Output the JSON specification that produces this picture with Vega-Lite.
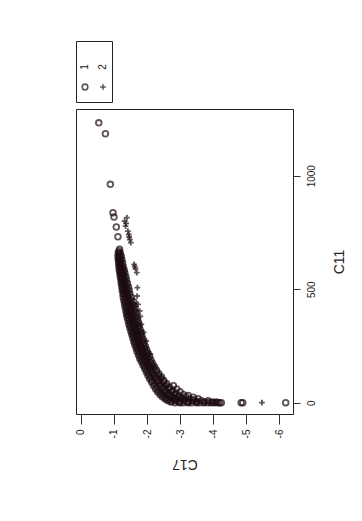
{
  "$schema": "https://vega.github.io/schema/vega-lite/v6.json",
  "autosize": {"type": "pad"},
  "padding": {"left": 75, "top": 40, "right": 5, "bottom": 5},
  "background": "white",
  "spacing": 5,
  "config": {
    "font": "Liberation Sans",
    "view": {"stroke": "#222", "strokeWidth": 1},
    "axis": {"labelFont": "Liberation Sans", "titleFont": "Liberation Sans"},
    "text": {"font": "Liberation Sans"}
  },
  "resolve": {"scale": {"x": "independent", "y": "independent", "shape": "independent"}},
  "datasets": {
    "groups": [{"g": "1"}, {"g": "2"}],
    "pts": [
      {"C17": -0.54, "C11": 1233, "g": "1"}, {"C17": -0.74, "C11": 1185, "g": "1"}, {"C17": -0.89, "C11": 962, "g": "1"},
      {"C17": -0.97, "C11": 837, "g": "1"}, {"C17": -1.0, "C11": 818, "g": "1"}, {"C17": -1.07, "C11": 774, "g": "1"},
      {"C17": -1.12, "C11": 731, "g": "1"}, {"C17": -1.15, "C11": 668, "g": "1"}, {"C17": -1.17, "C11": 676, "g": "1"},
      {"C17": -1.13, "C11": 660, "g": "1"}, {"C17": -1.16, "C11": 655, "g": "1"}, {"C17": -1.19, "C11": 660, "g": "1"},
      {"C17": -1.12, "C11": 645, "g": "1"}, {"C17": -1.15, "C11": 640, "g": "1"}, {"C17": -1.18, "C11": 645, "g": "1"}, {"C17": -1.22, "C11": 645, "g": "1"},
      {"C17": -1.13, "C11": 630, "g": "1"}, {"C17": -1.16, "C11": 625, "g": "1"}, {"C17": -1.19, "C11": 630, "g": "1"}, {"C17": -1.24, "C11": 630, "g": "1"},
      {"C17": -1.14, "C11": 615, "g": "1"}, {"C17": -1.17, "C11": 610, "g": "1"}, {"C17": -1.20, "C11": 615, "g": "1"}, {"C17": -1.26, "C11": 615, "g": "1"},
      {"C17": -1.15, "C11": 600, "g": "1"}, {"C17": -1.18, "C11": 595, "g": "1"}, {"C17": -1.21, "C11": 600, "g": "1"}, {"C17": -1.25, "C11": 592, "g": "1"}, {"C17": -1.28, "C11": 600, "g": "1"},
      {"C17": -1.16, "C11": 585, "g": "1"}, {"C17": -1.19, "C11": 578, "g": "1"}, {"C17": -1.23, "C11": 585, "g": "1"}, {"C17": -1.27, "C11": 578, "g": "1"}, {"C17": -1.31, "C11": 585, "g": "1"},
      {"C17": -1.18, "C11": 570, "g": "1"}, {"C17": -1.21, "C11": 563, "g": "1"}, {"C17": -1.25, "C11": 570, "g": "1"}, {"C17": -1.29, "C11": 563, "g": "1"}, {"C17": -1.33, "C11": 570, "g": "1"},
      {"C17": -1.19, "C11": 555, "g": "1"}, {"C17": -1.23, "C11": 548, "g": "1"}, {"C17": -1.27, "C11": 555, "g": "1"}, {"C17": -1.31, "C11": 548, "g": "1"}, {"C17": -1.36, "C11": 555, "g": "1"},
      {"C17": -1.21, "C11": 540, "g": "1"}, {"C17": -1.25, "C11": 533, "g": "1"}, {"C17": -1.29, "C11": 540, "g": "1"}, {"C17": -1.33, "C11": 533, "g": "1"}, {"C17": -1.38, "C11": 540, "g": "1"},
      {"C17": -1.22, "C11": 525, "g": "1"}, {"C17": -1.26, "C11": 518, "g": "1"}, {"C17": -1.31, "C11": 525, "g": "1"}, {"C17": -1.36, "C11": 518, "g": "1"}, {"C17": -1.41, "C11": 525, "g": "1"},
      {"C17": -1.24, "C11": 510, "g": "1"}, {"C17": -1.28, "C11": 503, "g": "1"}, {"C17": -1.33, "C11": 510, "g": "1"}, {"C17": -1.38, "C11": 503, "g": "1"}, {"C17": -1.44, "C11": 510, "g": "1"},
      {"C17": -1.25, "C11": 495, "g": "1"}, {"C17": -1.30, "C11": 488, "g": "1"}, {"C17": -1.35, "C11": 495, "g": "1"}, {"C17": -1.40, "C11": 488, "g": "1"}, {"C17": -1.46, "C11": 495, "g": "1"},
      {"C17": -1.27, "C11": 480, "g": "1"}, {"C17": -1.32, "C11": 473, "g": "1"}, {"C17": -1.37, "C11": 480, "g": "1"}, {"C17": -1.42, "C11": 473, "g": "1"}, {"C17": -1.48, "C11": 480, "g": "1"},
      {"C17": -1.28, "C11": 465, "g": "1"}, {"C17": -1.34, "C11": 458, "g": "1"}, {"C17": -1.39, "C11": 465, "g": "1"}, {"C17": -1.45, "C11": 458, "g": "1"}, {"C17": -1.52, "C11": 465, "g": "1"},
      {"C17": -1.30, "C11": 450, "g": "1"}, {"C17": -1.35, "C11": 443, "g": "1"}, {"C17": -1.41, "C11": 450, "g": "1"}, {"C17": -1.47, "C11": 443, "g": "1"}, {"C17": -1.53, "C11": 450, "g": "1"}, {"C17": -1.60, "C11": 445, "g": "1"},
      {"C17": -1.32, "C11": 435, "g": "1"}, {"C17": -1.37, "C11": 428, "g": "1"}, {"C17": -1.43, "C11": 435, "g": "1"}, {"C17": -1.49, "C11": 428, "g": "1"}, {"C17": -1.55, "C11": 435, "g": "1"}, {"C17": -1.61, "C11": 428, "g": "1"},
      {"C17": -1.34, "C11": 420, "g": "1"}, {"C17": -1.39, "C11": 413, "g": "1"}, {"C17": -1.45, "C11": 420, "g": "1"}, {"C17": -1.51, "C11": 413, "g": "1"}, {"C17": -1.57, "C11": 420, "g": "1"}, {"C17": -1.64, "C11": 413, "g": "1"},
      {"C17": -1.36, "C11": 405, "g": "1"}, {"C17": -1.41, "C11": 398, "g": "1"}, {"C17": -1.47, "C11": 405, "g": "1"}, {"C17": -1.53, "C11": 398, "g": "1"}, {"C17": -1.59, "C11": 405, "g": "1"}, {"C17": -1.66, "C11": 398, "g": "1"},
      {"C17": -1.38, "C11": 390, "g": "1"}, {"C17": -1.43, "C11": 383, "g": "1"}, {"C17": -1.49, "C11": 390, "g": "1"}, {"C17": -1.55, "C11": 383, "g": "1"}, {"C17": -1.61, "C11": 390, "g": "1"}, {"C17": -1.68, "C11": 383, "g": "1"},
      {"C17": -1.40, "C11": 375, "g": "1"}, {"C17": -1.46, "C11": 368, "g": "1"}, {"C17": -1.52, "C11": 375, "g": "1"}, {"C17": -1.58, "C11": 368, "g": "1"}, {"C17": -1.64, "C11": 375, "g": "1"}, {"C17": -1.71, "C11": 368, "g": "1"},
      {"C17": -1.43, "C11": 360, "g": "1"}, {"C17": -1.49, "C11": 353, "g": "1"}, {"C17": -1.55, "C11": 360, "g": "1"}, {"C17": -1.61, "C11": 353, "g": "1"}, {"C17": -1.67, "C11": 360, "g": "1"}, {"C17": -1.74, "C11": 353, "g": "1"},
      {"C17": -1.45, "C11": 345, "g": "1"}, {"C17": -1.51, "C11": 338, "g": "1"}, {"C17": -1.57, "C11": 345, "g": "1"}, {"C17": -1.63, "C11": 338, "g": "1"}, {"C17": -1.69, "C11": 345, "g": "1"}, {"C17": -1.76, "C11": 338, "g": "1"},
      {"C17": -1.48, "C11": 330, "g": "1"}, {"C17": -1.54, "C11": 323, "g": "1"}, {"C17": -1.60, "C11": 330, "g": "1"}, {"C17": -1.66, "C11": 323, "g": "1"}, {"C17": -1.72, "C11": 330, "g": "1"}, {"C17": -1.79, "C11": 323, "g": "1"},
      {"C17": -1.51, "C11": 315, "g": "1"}, {"C17": -1.57, "C11": 308, "g": "1"}, {"C17": -1.63, "C11": 315, "g": "1"}, {"C17": -1.69, "C11": 308, "g": "1"}, {"C17": -1.75, "C11": 315, "g": "1"}, {"C17": -1.82, "C11": 308, "g": "1"},
      {"C17": -1.54, "C11": 300, "g": "1"}, {"C17": -1.60, "C11": 293, "g": "1"}, {"C17": -1.66, "C11": 300, "g": "1"}, {"C17": -1.72, "C11": 293, "g": "1"}, {"C17": -1.78, "C11": 300, "g": "1"}, {"C17": -1.85, "C11": 293, "g": "1"},
      {"C17": -1.57, "C11": 285, "g": "1"}, {"C17": -1.63, "C11": 278, "g": "1"}, {"C17": -1.69, "C11": 285, "g": "1"}, {"C17": -1.75, "C11": 278, "g": "1"}, {"C17": -1.81, "C11": 285, "g": "1"}, {"C17": -1.88, "C11": 278, "g": "1"},
      {"C17": -1.60, "C11": 270, "g": "1"}, {"C17": -1.66, "C11": 263, "g": "1"}, {"C17": -1.72, "C11": 270, "g": "1"}, {"C17": -1.78, "C11": 263, "g": "1"}, {"C17": -1.84, "C11": 270, "g": "1"}, {"C17": -1.91, "C11": 263, "g": "1"},
      {"C17": -1.63, "C11": 255, "g": "1"}, {"C17": -1.69, "C11": 248, "g": "1"}, {"C17": -1.75, "C11": 255, "g": "1"}, {"C17": -1.82, "C11": 248, "g": "1"}, {"C17": -1.88, "C11": 255, "g": "1"}, {"C17": -1.95, "C11": 248, "g": "1"},
      {"C17": -1.67, "C11": 240, "g": "1"}, {"C17": -1.73, "C11": 233, "g": "1"}, {"C17": -1.79, "C11": 240, "g": "1"}, {"C17": -1.86, "C11": 233, "g": "1"}, {"C17": -1.92, "C11": 240, "g": "1"}, {"C17": -1.99, "C11": 233, "g": "1"},
      {"C17": -1.70, "C11": 225, "g": "1"}, {"C17": -1.77, "C11": 218, "g": "1"}, {"C17": -1.83, "C11": 225, "g": "1"}, {"C17": -1.90, "C11": 218, "g": "1"}, {"C17": -1.96, "C11": 225, "g": "1"}, {"C17": -2.03, "C11": 218, "g": "1"},
      {"C17": -1.74, "C11": 210, "g": "1"}, {"C17": -1.81, "C11": 203, "g": "1"}, {"C17": -1.87, "C11": 210, "g": "1"}, {"C17": -1.94, "C11": 203, "g": "1"}, {"C17": -2.00, "C11": 210, "g": "1"}, {"C17": -2.08, "C11": 203, "g": "1"},
      {"C17": -1.78, "C11": 195, "g": "1"}, {"C17": -1.85, "C11": 188, "g": "1"}, {"C17": -1.91, "C11": 195, "g": "1"}, {"C17": -1.98, "C11": 188, "g": "1"}, {"C17": -2.04, "C11": 195, "g": "1"}, {"C17": -2.12, "C11": 188, "g": "1"},
      {"C17": -1.83, "C11": 180, "g": "1"}, {"C17": -1.90, "C11": 173, "g": "1"}, {"C17": -1.96, "C11": 180, "g": "1"}, {"C17": -2.03, "C11": 173, "g": "1"}, {"C17": -2.09, "C11": 180, "g": "1"}, {"C17": -2.17, "C11": 173, "g": "1"},
      {"C17": -1.88, "C11": 165, "g": "1"}, {"C17": -1.95, "C11": 158, "g": "1"}, {"C17": -2.01, "C11": 165, "g": "1"}, {"C17": -2.08, "C11": 158, "g": "1"}, {"C17": -2.15, "C11": 165, "g": "1"}, {"C17": -2.23, "C11": 158, "g": "1"},
      {"C17": -1.93, "C11": 150, "g": "1"}, {"C17": -2.00, "C11": 143, "g": "1"}, {"C17": -2.07, "C11": 150, "g": "1"}, {"C17": -2.14, "C11": 143, "g": "1"}, {"C17": -2.21, "C11": 150, "g": "1"}, {"C17": -2.29, "C11": 143, "g": "1"},
      {"C17": -1.98, "C11": 135, "g": "1"}, {"C17": -2.05, "C11": 128, "g": "1"}, {"C17": -2.13, "C11": 135, "g": "1"}, {"C17": -2.20, "C11": 128, "g": "1"}, {"C17": -2.28, "C11": 135, "g": "1"}, {"C17": -2.36, "C11": 128, "g": "1"},
      {"C17": -2.03, "C11": 120, "g": "1"}, {"C17": -2.11, "C11": 113, "g": "1"}, {"C17": -2.19, "C11": 120, "g": "1"}, {"C17": -2.27, "C11": 113, "g": "1"}, {"C17": -2.35, "C11": 120, "g": "1"}, {"C17": -2.44, "C11": 113, "g": "1"},
      {"C17": -2.08, "C11": 105, "g": "1"}, {"C17": -2.16, "C11": 98, "g": "1"}, {"C17": -2.25, "C11": 105, "g": "1"}, {"C17": -2.33, "C11": 98, "g": "1"}, {"C17": -2.42, "C11": 105, "g": "1"}, {"C17": -2.51, "C11": 98, "g": "1"},
      {"C17": -2.14, "C11": 90, "g": "1"}, {"C17": -2.23, "C11": 83, "g": "1"}, {"C17": -2.32, "C11": 90, "g": "1"}, {"C17": -2.41, "C11": 83, "g": "1"}, {"C17": -2.50, "C11": 90, "g": "1"}, {"C17": -2.60, "C11": 83, "g": "1"},
      {"C17": -2.20, "C11": 75, "g": "1"}, {"C17": -2.29, "C11": 68, "g": "1"}, {"C17": -2.39, "C11": 75, "g": "1"}, {"C17": -2.48, "C11": 68, "g": "1"}, {"C17": -2.58, "C11": 75, "g": "1"}, {"C17": -2.69, "C11": 68, "g": "1"}, {"C17": -2.80, "C11": 75, "g": "1"},
      {"C17": -2.26, "C11": 60, "g": "1"}, {"C17": -2.36, "C11": 54, "g": "1"}, {"C17": -2.46, "C11": 60, "g": "1"}, {"C17": -2.56, "C11": 54, "g": "1"}, {"C17": -2.67, "C11": 60, "g": "1"}, {"C17": -2.78, "C11": 54, "g": "1"}, {"C17": -2.90, "C11": 60, "g": "1"},
      {"C17": -2.32, "C11": 48, "g": "1"}, {"C17": -2.43, "C11": 42, "g": "1"}, {"C17": -2.53, "C11": 48, "g": "1"}, {"C17": -2.64, "C11": 42, "g": "1"}, {"C17": -2.75, "C11": 48, "g": "1"}, {"C17": -2.87, "C11": 42, "g": "1"}, {"C17": -3.00, "C11": 48, "g": "1"},
      {"C17": -2.39, "C11": 36, "g": "1"}, {"C17": -2.50, "C11": 31, "g": "1"}, {"C17": -2.61, "C11": 36, "g": "1"}, {"C17": -2.72, "C11": 31, "g": "1"}, {"C17": -2.84, "C11": 36, "g": "1"}, {"C17": -2.97, "C11": 31, "g": "1"}, {"C17": -3.10, "C11": 36, "g": "1"}, {"C17": -3.25, "C11": 32, "g": "1"},
      {"C17": -2.46, "C11": 26, "g": "1"}, {"C17": -2.58, "C11": 21, "g": "1"}, {"C17": -2.69, "C11": 26, "g": "1"}, {"C17": -2.81, "C11": 21, "g": "1"}, {"C17": -2.93, "C11": 26, "g": "1"}, {"C17": -3.06, "C11": 21, "g": "1"}, {"C17": -3.18, "C11": 26, "g": "1"}, {"C17": -3.40, "C11": 24, "g": "1"},
      {"C17": -2.54, "C11": 17, "g": "1"}, {"C17": -2.66, "C11": 13, "g": "1"}, {"C17": -2.78, "C11": 17, "g": "1"}, {"C17": -2.90, "C11": 13, "g": "1"}, {"C17": -3.02, "C11": 17, "g": "1"}, {"C17": -3.15, "C11": 13, "g": "1"}, {"C17": -3.28, "C11": 17, "g": "1"}, {"C17": -3.42, "C11": 13, "g": "1"}, {"C17": -3.55, "C11": 17, "g": "1"},
      {"C17": -2.62, "C11": 9, "g": "1"}, {"C17": -2.74, "C11": 6, "g": "1"}, {"C17": -2.86, "C11": 9, "g": "1"}, {"C17": -2.99, "C11": 6, "g": "1"}, {"C17": -3.12, "C11": 9, "g": "1"}, {"C17": -3.25, "C11": 6, "g": "1"}, {"C17": -3.38, "C11": 9, "g": "1"}, {"C17": -3.51, "C11": 6, "g": "1"}, {"C17": -3.65, "C11": 9, "g": "1"}, {"C17": -3.85, "C11": 8, "g": "1"},
      {"C17": -2.72, "C11": 3, "g": "1"}, {"C17": -2.96, "C11": 3, "g": "1"}, {"C17": -3.22, "C11": 3, "g": "1"}, {"C17": -3.48, "C11": 3, "g": "1"}, {"C17": -3.74, "C11": 3, "g": "1"}, {"C17": -3.98, "C11": 3, "g": "1"}, {"C17": -4.1, "C11": 3, "g": "1"},
      {"C17": -2.85, "C11": 0, "g": "1"}, {"C17": -3.0, "C11": 0, "g": "1"}, {"C17": -3.1, "C11": 0, "g": "1"}, {"C17": -3.25, "C11": 0, "g": "1"}, {"C17": -3.35, "C11": 0, "g": "1"}, {"C17": -3.5, "C11": 0, "g": "1"}, {"C17": -3.6, "C11": 0, "g": "1"}, {"C17": -3.72, "C11": 0, "g": "1"}, {"C17": -3.85, "C11": 0, "g": "1"},
      {"C17": -3.95, "C11": 0, "g": "1"}, {"C17": -4.05, "C11": 0, "g": "1"}, {"C17": -4.15, "C11": 0, "g": "1"}, {"C17": -4.2, "C11": 0, "g": "1"}, {"C17": -4.25, "C11": 0, "g": "1"}, {"C17": -4.85, "C11": 0, "g": "1"}, {"C17": -4.9, "C11": 0, "g": "1"}, {"C17": -6.2, "C11": 0, "g": "1"},
      {"C17": -1.32, "C11": 800, "g": "2"}, {"C17": -1.39, "C11": 815, "g": "2"}, {"C17": -1.35, "C11": 778, "g": "2"}, {"C17": -1.37, "C11": 790, "g": "2"},
      {"C17": -1.42, "C11": 756, "g": "2"}, {"C17": -1.45, "C11": 741, "g": "2"}, {"C17": -1.48, "C11": 719, "g": "2"}, {"C17": -1.46, "C11": 730, "g": "2"},
      {"C17": -1.51, "C11": 705, "g": "2"}, {"C17": -1.61, "C11": 609, "g": "2"}, {"C17": -1.63, "C11": 600, "g": "2"}, {"C17": -1.65, "C11": 590, "g": "2"},
      {"C17": -1.69, "C11": 573, "g": "2"}, {"C17": -1.71, "C11": 507, "g": "2"}, {"C17": -1.73, "C11": 433, "g": "2"}, {"C17": -1.70, "C11": 470, "g": "2"},
      {"C17": -1.78, "C11": 404, "g": "2"}, {"C17": -1.80, "C11": 380, "g": "2"}, {"C17": -1.83, "C11": 345, "g": "2"}, {"C17": -1.90, "C11": 310, "g": "2"}, {"C17": -1.98, "C11": 272, "g": "2"},
      {"C17": -2.1, "C11": 215, "g": "2"}, {"C17": -2.2, "C11": 160, "g": "2"}, {"C17": -2.4, "C11": 110, "g": "2"}, {"C17": -2.6, "C11": 70, "g": "2"},
      {"C17": -3.75, "C11": 0, "g": "2"}, {"C17": -3.9, "C11": 0, "g": "2"}, {"C17": -4.05, "C11": 0, "g": "2"}, {"C17": -5.48, "C11": 0, "g": "2"}
    ]
  },
  "vconcat": [
    {
      "width": 36,
      "height": 61,
      "data": {"name": "groups"},
      "layer": [
        {
          "mark": {"type": "point", "filled": false, "strokeWidth": 1.6, "size": 32, "color": "#1c0c12"},
          "encoding": {
            "x": {"field": "g", "type": "nominal", "scale": {"type": "point", "domain": ["1", "2"], "range": [9, 27], "padding": 0}, "axis": null},
            "y": {"datum": "sym", "type": "nominal", "scale": {"type": "point", "domain": ["lab", "sym"], "range": [26, 46], "padding": 0}, "axis": null},
            "shape": {"field": "g", "type": "nominal", "scale": {"domain": ["1", "2"], "range": ["circle", "M-1,0L1,0M0,-1L0,1"]}, "legend": null}
          }
        },
        {
          "mark": {"type": "text", "angle": -90, "fontSize": 10, "align": "center", "baseline": "middle", "color": "#222"},
          "encoding": {
            "x": {"field": "g", "type": "nominal"},
            "y": {"datum": "lab", "type": "nominal"},
            "text": {"field": "g"}
          }
        }
      ]
    },
    {
      "width": 217,
      "height": 305,
      "data": {"name": "pts"},
      "mark": {"type": "point", "filled": false, "strokeWidth": 1.8, "clip": true},
      "encoding": {
        "x": {
          "field": "C17", "type": "quantitative",
          "scale": {"domain": [0.15, -6.42], "nice": false, "zero": false},
          "axis": {
            "orient": "bottom", "values": [0, -1, -2, -3, -4, -5, -6],
            "labelExpr": "'' + datum.value",
            "grid": false, "domain": false, "tickSize": 10, "tickColor": "#333",
            "labelAngle": -90, "labelFontSize": 10, "labelPadding": 5, "labelColor": "#222",
            "title": "C17", "titleAngle": 180, "titleFontSize": 14, "titleFontWeight": "normal",
            "titleColor": "#222", "titlePadding": 33
          }
        },
        "y": {
          "field": "C11", "type": "quantitative",
          "scale": {"domain": [-50, 1294], "nice": false, "zero": false},
          "axis": {
            "orient": "right", "values": [0, 500, 1000],
            "labelExpr": "'' + datum.value",
            "grid": false, "domain": false, "tickSize": 7, "tickColor": "#333",
            "labelAngle": -90, "labelFontSize": 10, "labelPadding": 6, "labelColor": "#222",
            "title": "C11", "titleAngle": -90, "titleFontSize": 14, "titleFontWeight": "normal",
            "titleColor": "#222", "titlePadding": 30
          }
        },
        "shape": {
          "field": "g", "type": "nominal",
          "scale": {"domain": ["1", "2"], "range": ["circle", "M-1,0L1,0M0,-1L0,1"]},
          "legend": null
        },
        "color": {"value": "#1c0c12"},
        "size": {"value": 32}
      }
    }
  ]
}
